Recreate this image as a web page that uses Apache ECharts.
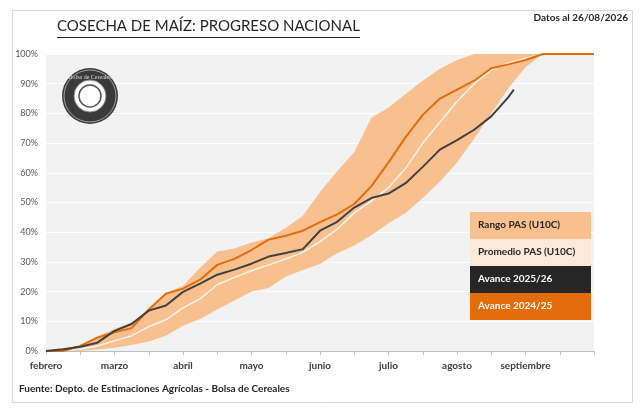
<!DOCTYPE html>
<html>
<head>
<meta charset="utf-8">
<script src="https://cdn.jsdelivr.net/npm/echarts@6/dist/echarts.min.js"></script>
<style>
html,body{margin:0;padding:0;background:#fff;}
#c{width:640px;height:413px;}
</style>
</head>
<body>
<div id="c"></div>
<script>
// x positions in half-month steps (0 = 1 feb, 2 = 1 mar, ...)
const semanas = [0,0.5,1,1.5,2,2.5,3,3.5,4,4.5,5,5.5,6,6.5,7,7.5,8,8.5,9,9.5,10,10.5,11,11.5,12,12.5,13,13.5,14,14.5,15,15.5,16];
const meses = ['febrero','marzo','abril','mayo','junio','julio','agosto','septiembre',''];
const rangoMin = [0,0,0,0.5,1.1,2,3.2,5.1,8.5,10.8,14,17,20,21.2,25,27.3,29.3,32.9,35.5,39,43,46.5,51.5,57,63.5,71.5,80,88.5,95.5,100,100,100,100];
const rangoMax = [0,0.5,1.8,5,7.4,9.7,13.6,19.5,22,28,33.5,34.5,36.5,38,41.5,45.5,53.5,60.5,67,78.5,82,86.5,91,95,98,100,100,100,100,100,100,100,100];
const promedio = [0,0.2,0.6,1.7,3.4,5.1,8.2,10.5,14.5,17.6,22.3,24.8,27,29,31,33.2,36.8,41,46.5,50.5,55,61.5,70,77,84,90,94.6,97,98.5,100,100,100,100];
const avance2425 = [0,0,1.7,4.5,6.3,7.7,14,19.3,21,24,29,31,34,37.5,38.8,40.5,43.4,46,49.5,55.5,63.5,72,79.5,85,88,91,95.2,96.5,98,100,100,100,100];
const avance2526 = [0,0.6,1.4,2.8,6.8,9.1,13.6,15.3,19.9,22.7,25.7,27.4,29.4,31.8,33,34.3,40.5,43.5,48.3,51.5,53,56.5,62,67.8,71,74.5,79,85.5];
const avanceFinal = [13.66, 88];
const leyenda = ['Rango PAS (U10C)','Promedio PAS (U10C)','Avance 2025/26','Avance 2024/25'];

const FONT = 'Lato';
const pairs = (arr) => arr.map((v,i) => [semanas[i], v]);
const black = pairs(avance2526);
black.push({value: avanceFinal, label:{show:true, formatter: avanceFinal[1] + ' %', position:'top', offset:[12,-1], fontFamily:FONT, fontWeight:'bold', fontSize:11, color:'#262626'}});

const bandData = semanas.map((x,i) => [x, rangoMin[i], rangoMax[i]]);

const chart = echarts.init(document.getElementById('c'), null, {renderer:'canvas'});
const legColors = [['#F9C08F','#262626'],['#FDE9D9','#262626'],['#262626','#ffffff'],['#E46C0A','#ffffff']];
function legendBoxes(){
  const g = [];
  const y0 = 212, h = 27;
  leyenda.forEach((t,i) => {
    g.push({type:'rect', left:470, top:y0 + i*h, shape:{width:121, height:h}, style:{fill:legColors[i][0]}, z:100});
    g.push({type:'text', left:478, top:y0 + i*h + 8, style:{text:t, fill:legColors[i][1], font:'bold 10px ' + FONT}, z:101});
  });
  return g;
}

chart.setOption({
  animation:false,
  backgroundColor:'#ffffff',
  grid:{left:46, right:46, top:54, bottom:62, show:true, backgroundColor:'#F2F2F2', borderWidth:0},
  xAxis:{type:'value', min:0, max:16, interval:1,
    axisLine:{show:true, lineStyle:{color:'#BFBFBF'}},
    axisTick:{show:true, length:4, lineStyle:{color:'#BFBFBF'}},
    splitLine:{show:false},
    axisLabel:{margin:10, fontFamily:FONT, fontSize:10, fontWeight:'bold', color:'#404040',
      formatter:(v) => (v % 2 === 0 ? meses[v/2] : '')}},
  yAxis:{type:'value', min:0, max:100, interval:10,
    axisLine:{show:false}, axisTick:{show:false},
    splitLine:{show:true, lineStyle:{color:'#FFFFFF', width:1}},
    axisLabel:{margin:8, fontFamily:FONT, fontSize:9, color:'#595959', formatter:'{value}%'}},
  series:[
    {type:'custom', name:leyenda[0], data:bandData, silent:true, z:2,
      encode:{x:0, y:[1,2]},
      renderItem:function(params, api){
        if (params.dataIndex !== 0) return null;
        const upper = bandData.map(d => api.coord([d[0], d[2]]));
        const lower = bandData.map(d => api.coord([d[0], d[1]])).reverse();
        return {type:'polygon', shape:{points: upper.concat(lower)}, style:{fill:'#F9C08F'}};
      }},
    {type:'line', name:leyenda[1], data:pairs(promedio), symbol:'none', lineStyle:{color:'#FFF4EC', width:1.5}, z:3},
    {type:'line', name:leyenda[3], data:pairs(avance2425), symbol:'none', lineStyle:{color:'#E46C0A', width:2}, z:4},
    {type:'line', name:leyenda[2], data:black, symbol:'none', lineStyle:{color:'#404040', width:2}, z:5}
  ],
  graphic:[
    {type:'rect', left:10, top:8, shape:{width:620, height:392}, style:{fill:'none', stroke:'#D9D9D9', lineWidth:1}, z:0, silent:true},
    {type:'text', left:57, top:19, style:{text:'COSECHA DE MAÍZ: PROGRESO NACIONAL', fill:'#262626', font:'15px ' + FONT}, z:10},
    {type:'line', shape:{x1:57, y1:37.5, x2:360, y2:37.5}, style:{stroke:'#262626', lineWidth:1}, z:10},
    {type:'text', right:12, top:13, style:{text:'Datos al 26/08/2026', fill:'#262626', font:'bold 10px ' + FONT}, z:10},
    {type:'text', left:19, top:384, style:{text:'Fuente: Depto. de Estimaciones Agrícolas - Bolsa de Cereales', fill:'#262626', font:'bold 10px ' + FONT}, z:10},
    {type:'circle', shape:{cx:90, cy:96, r:28}, style:{fill:'#3A3A3A'}, z:20},
    {type:'circle', shape:{cx:90, cy:96, r:26}, style:{fill:'none', stroke:'#BBBBBB', lineWidth:0.8}, z:21},
    {type:'circle', shape:{cx:90, cy:96, r:16}, style:{fill:'#FFFFFF', stroke:'#888', lineWidth:1}, z:21},
    {type:'circle', shape:{cx:90, cy:96, r:11}, style:{fill:'none', stroke:'#555', lineWidth:1.5}, z:22},
    {type:'text', x:90, y:77, style:{text:'Bolsa de Cereales', fill:'#DDDDDD', font:'6px serif', align:'center', verticalAlign:'middle'}, z:22},
    ...legendBoxes()
  ]
});
</script>
</body>
</html>
